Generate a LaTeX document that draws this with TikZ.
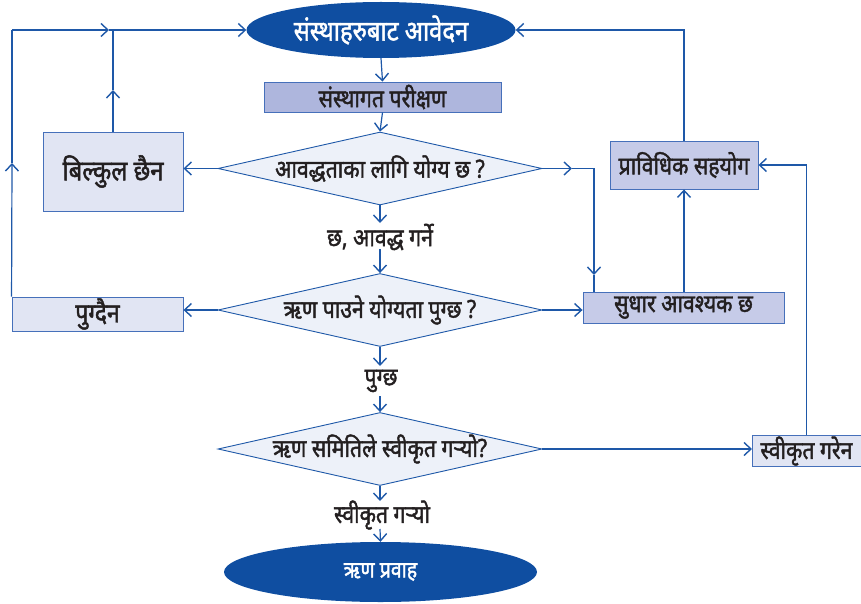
\documentclass[tikz,border=0pt]{standalone}
\usepackage{fontspec}
\newfontfamily\dev[Script=Devanagari,FakeStretch=0.85,FakeBold=1.6]{Noto Sans}
\usetikzlibrary{shapes.geometric,arrows.meta}
\definecolor{ellblue}{RGB}{15,78,161}
\definecolor{lineblue}{RGB}{30,88,168}
\definecolor{bordblue}{RGB}{70,112,186}
\definecolor{txtc}{RGB}{35,31,32}
\definecolor{fillA}{RGB}{174,182,221}
\definecolor{fillB}{RGB}{225,229,243}
\definecolor{fillC}{RGB}{198,203,232}
\definecolor{fillD}{RGB}{237,241,249}
\begin{document}
\begin{tikzpicture}[x=1pt,y=-1pt,
  line/.style={draw=lineblue,line width=1.2pt},
  arr/.style={line,-{Straight Barb[length=7pt,width=13pt,line width=1.4pt]}},
  dtext/.style={font=\dev\fontsize{25}{28}\selectfont,text=txtc},
  ell/.style={ellipse,fill=ellblue,draw=none,inner sep=0,text=white,font=\dev\fontsize{28}{30}\selectfont},
  boxA/.style={rectangle,draw=bordblue,line width=0.9pt,fill=fillA,inner sep=0,dtext},
  boxB/.style={rectangle,draw=bordblue,line width=0.9pt,fill=fillB,inner sep=0,dtext},
  boxC/.style={rectangle,draw=bordblue,line width=0.9pt,fill=fillC,inner sep=0,dtext},
  dia/.style={diamond,draw=lineblue,line width=0.9pt,fill=fillD,inner sep=0,shape aspect=4.44,minimum width=324,minimum height=73,dtext},
  lbl/.style={inner sep=0,dtext}
]
\useasboundingbox (0,0) rectangle (861,604);

% nodes
\node[ell,minimum width=269,minimum height=56] (e1) at (381,30) {संस्थाहरुबाट आवेदन};
\node[boxA,minimum width=237,minimum height=30] (sp) at (382.5,97) {संस्थागत परीक्षण};
\node[dia] (d1) at (380,168.5) {\makebox[0pt]{आवद्धताका लागि योग्य छ ?}};
\node[boxB,minimum width=140,minimum height=79,font=\dev\fontsize{28}{30}\selectfont] (bk) at (113,171.5) {बिल्कुल छैन};
\node[boxC,minimum width=148,minimum height=48] (pr) at (684,165) {प्राविधिक सहयोग};
\node[lbl] (l1) at (380,237) {छ, आवद्ध गर्ने};
\node[dia] (d2) at (380,310) {\makebox[0pt]{ऋण पाउने योग्यता पुग्छ ?}};
\node[boxB,minimum width=171,minimum height=34,font=\dev\fontsize{27}{29}\selectfont] (pg) at (97.5,314) {पुग्दैन};
\node[boxC,minimum width=201,minimum height=31] (su) at (683.5,307.5) {सुधार आवश्यक छ};
\node[lbl] (l2) at (381,381) {पुग्छ};
\node[dia] (d3) at (380,449) {\makebox[0pt]{ऋण समितिले स्वीकृत गऱ्यो?}};
\node[boxB,minimum width=112,minimum height=31,anchor=west] (sg) at (752,451) {\hspace*{-2pt}स्वीकृत गरेन\hspace*{2pt}};
\node[lbl] (l3) at (382,515) {स्वीकृत गऱ्यो};
\node[ell,minimum width=313,minimum height=60,font=\dev\fontsize{23}{25}\selectfont] (e2) at (380.5,572) {ऋण प्रवाह};

% helper coordinates
\coordinate (tl) at (12,30);
\coordinate (j1) at (113,30);
\coordinate (a1) at (109,30);
\coordinate (a2) at (113,90);
\coordinate (a3) at (12,163);
\coordinate (a4) at (572,168.5);
\coordinate (c1) at (594,168.5);
\coordinate (a5) at (594,275);
\coordinate (b1) at (380,223);
\coordinate (b2) at (380,249);
\coordinate (b3) at (380,366);
\coordinate (b4) at (380,396);
\coordinate (b5) at (380,501);
\coordinate (b6) at (380,529);

% main flow
\draw[arr] (e1.south) -- (sp.north);
\draw[arr] (sp.south) -- (d1.north);
\draw[arr] (d1.south) -- (b1);
\draw[arr] (b2) -- (d2.north);
\draw[arr] (d2.south) -- (b3);
\draw[arr] (b4) -- (d3.north);
\draw[arr] (d3.south) -- (b5);
\draw[arr] (b6) -- (e2.north);

% left side
\draw[arr] (d1.west) -- (d1.west -| bk.east);
\draw[arr] (d2.west) -- (d2.west -| pg.east);
\draw[arr] (bk.north) -- (a2);
\draw[line] (a2) -- (j1);
\draw[arr] (pg.north west) -- (a3);
\draw[line] (a3) -- (tl);
\draw[arr] (tl) -- (a1);
\draw[arr] (a1) -- (e1.west);

% right side
\draw[arr] (d1.east) -- (a4);
\draw[line] (a4) -- (c1);
\draw[arr] (c1) -- (a5);
\draw[line] (a5) -- (a5 |- su.north);
\draw[arr] (d2.east) -- (d2.east -| su.west);
\draw[arr] (su.north -| pr.south) -- (pr.south);
\draw[arr] (pr.north) |- (e1.east);
\draw[arr] (d3.east) -- (d3.east -| sg.west);
\draw[arr] ([xshift=-2pt]sg.north) |- (pr.east);
\end{tikzpicture}
\end{document}
